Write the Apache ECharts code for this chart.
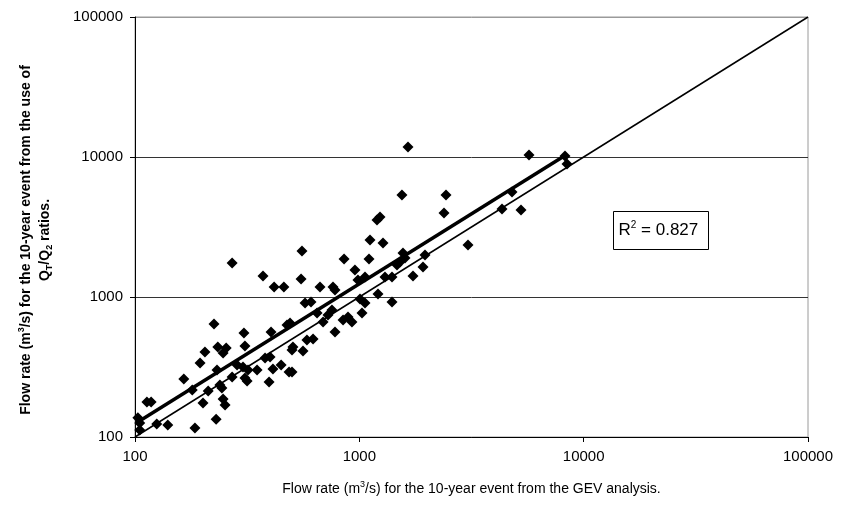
<!DOCTYPE html>
<html>
<head>
<meta charset="utf-8">
<script src="https://cdn.jsdelivr.net/npm/echarts@6/dist/echarts.min.js"></script>
<style>
html,body{margin:0;padding:0;background:#fff;}
#chart{width:852px;height:508px;}
</style>
</head>
<body>
<div id="chart"></div>
<script>
// x: 10-year flow from GEV analysis (m3/s)
var flowGEV = [103,105,105,113,118,125,140,165,180,185,195,201,205,212,225,230,232,234,255,247,239,244,247,252,271,285,303,319,271,309,316,306,309,350,372,380,400,404,412,396,417,461,448,476,486,491,501,506,501,555,550,561,573,609,584,622,668,763,648,689,725,755,779,779,855,846,890,927,956,986,1007,1060,1028,1060,1104,1116,1199,1236,1275,1211,1301,1398,1398,1472,1518,1565,1598,1549,1648,1735,1922,1962,2434,2385,3051,4325,4793,5257,5705,8258,8429];
// y: 10-year flow from QT/Q2 ratios (m3/s)
var flowRatio = [137,126,112,178,178,124,122,260,217,116,338,175,405,213,641,134,301,439,432,398,235,224,187,169,1749,327,316,301,268,264,251,553,447,301,1413,367,373,562,306,247,1178,1178,327,631,291,652,418,439,291,2131,1344,411,906,921,493,501,1178,1178,769,663,744,808,1122,562,1868,685,720,663,1560,1322,968,906,769,1390,1868,2553,3548,3728,2430,1050,1390,1390,921,1693,1778,2062,1899,5354,11790,1413,1638,1995,5354,3981,2352,4252,5623,4180,10330,10160,8913];
// 1:1 reference line
var lineX = [100, 100000];
var lineY = [100, 100000];
// fitted trend line endpoints
var trendX = [103, 8430];
var trendY = [128, 10450];
var axisTicks = [100, 1000, 10000, 100000];

var FONT = 'Liberation Sans, Arial, sans-serif';
var chart = echarts.init(document.getElementById('chart'), null, {renderer:'canvas'});

var pts = flowGEV.map(function(x,i){return [x, flowRatio[i]];});
var ref = lineX.map(function(x,i){return [x, lineY[i]];});
var trend = trendX.map(function(x,i){return [x, trendY[i]];});

var ytRich = {
  t:{fontSize:14,fontWeight:'bold',fill:'#000',fontFamily:FONT,lineHeight:18},
  sup:{fontSize:9,fontWeight:'bold',fill:'#000',fontFamily:FONT,lineHeight:10,verticalAlign:'top'},
  sub:{fontSize:9,fontWeight:'bold',fill:'#000',fontFamily:FONT,lineHeight:10,verticalAlign:'bottom'}
};

var option = {
  backgroundColor:'#fff',
  animation:false,
  grid:{left:135,right:44,top:17,bottom:71,show:true,borderColor:'#9a9a9a',borderWidth:1,backgroundColor:'transparent'},
  xAxis:{
    type:'log', logBase:10, min:axisTicks[0], max:axisTicks[axisTicks.length-1],
    axisLine:{show:true,lineStyle:{color:'#000',width:1}},
    axisTick:{show:true,inside:false,length:5,lineStyle:{color:'#000'}},
    axisLabel:{fontSize:15,color:'#000',fontFamily:FONT,margin:12,formatter:function(v){return String(Math.round(v));}},
    splitLine:{show:false},
    name:'{t|Flow rate (m}{sup|3}{t|/s) for the 10-year event from the GEV analysis.}',
    nameLocation:'middle', nameGap:43,
    nameTextStyle:{rich:{
      t:{fontSize:14,color:'#000',fontFamily:FONT,lineHeight:18},
      sup:{fontSize:9,color:'#000',fontFamily:FONT,lineHeight:10,verticalAlign:'top'}
    }}
  },
  yAxis:{
    type:'log', logBase:10, min:axisTicks[0], max:axisTicks[axisTicks.length-1],
    axisLine:{show:true,lineStyle:{color:'#000',width:1}},
    axisTick:{show:true,inside:false,length:5,lineStyle:{color:'#000'}},
    axisLabel:{fontSize:15,color:'#000',fontFamily:FONT,margin:12,formatter:function(v){return String(Math.round(v));}},
    splitLine:{show:true,lineStyle:{color:['#333','#333','#333','#9a9a9a'],width:1}}
  },
  series:[
    {type:'line',data:ref,symbol:'none',lineStyle:{color:'#000',width:1.5},z:2,silent:true},
    {type:'scatter',data:pts,symbol:'diamond',symbolSize:11,itemStyle:{color:'#000',opacity:1},z:3},
    {type:'line',data:trend,symbol:'none',lineStyle:{color:'#000',width:3.5},z:4,silent:true}
  ],
  graphic:[
    {type:'text',x:26,y:240,rotation:Math.PI/2,style:{
      text:'{t|Flow rate (m}{sup|3}{t|/s) for the 10-year event from the use of}',
      align:'center',verticalAlign:'middle',rich:ytRich}},
    {type:'text',x:45,y:240,rotation:Math.PI/2,style:{
      text:'{t|Q}{sub|T}{t|/Q}{sub|2}{t| ratios.}',
      align:'center',verticalAlign:'middle',rich:ytRich}},
    {type:'group', left:613, top:211,
    children:[
      {type:'rect',shape:{x:0,y:0,width:95,height:38},style:{fill:'#fff',stroke:'#000',lineWidth:1}},
      {type:'text',x:5,y:19,style:{
        text:'{r|R}{s|2}{r| = 0.827}',
        verticalAlign:'middle',
        rich:{
          r:{fontSize:17,fill:'#000',fontFamily:FONT,lineHeight:20},
          s:{fontSize:10,fill:'#000',fontFamily:FONT,lineHeight:12,verticalAlign:'top'}
        }
      }}
    ]
  }]
};
chart.setOption(option);
</script>
</body>
</html>
